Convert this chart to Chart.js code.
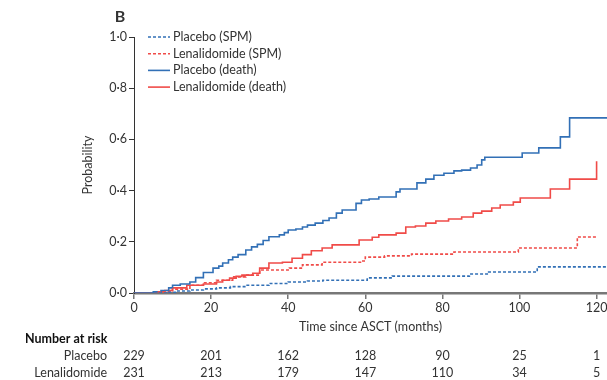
<!DOCTYPE html>
<html>
<head>
<meta charset="utf-8">
<script src="https://cdn.jsdelivr.net/npm/chart.js@4/dist/chart.umd.min.js"></script>
<style>
  html, body { margin: 0; padding: 0; background: #fff; }
  #wrap { width: 607px; height: 380px; }
</style>
</head>
<body>
<div id="wrap"><canvas id="cumChart" width="607" height="380"></canvas></div>
<script>
// Incidencia acumulada (meses desde ASCT)
const placeboDeathT = [0, 5, 7, 9, 10, 12, 14.5, 16, 18, 20.5, 22, 23, 24.5, 25.6, 27, 29, 30.5, 32, 33.5, 35, 37.7, 39, 40, 42, 43.7, 45, 47, 49, 50.6, 52.5, 54, 57.6, 59, 61, 63.5, 68, 69, 73.4, 75.7, 77.8, 80.4, 83, 85, 87.3, 89, 90.2, 91, 100.7, 105, 110.6, 113, 122.7];
const placeboDeathP = [0, 0.005, 0.01, 0.02, 0.03, 0.035, 0.043, 0.06, 0.08, 0.097, 0.105, 0.117, 0.13, 0.14, 0.15, 0.168, 0.18, 0.19, 0.205, 0.22, 0.227, 0.236, 0.246, 0.25, 0.258, 0.265, 0.273, 0.283, 0.293, 0.312, 0.324, 0.35, 0.363, 0.367, 0.375, 0.395, 0.406, 0.43, 0.445, 0.46, 0.468, 0.477, 0.48, 0.488, 0.5, 0.52, 0.53, 0.547, 0.567, 0.61, 0.684, 0.684];

const lenaDeathT = [0, 6, 8, 10, 13.7, 18, 21.4, 23, 24.8, 26.5, 28, 30.8, 32.6, 35, 38.5, 41, 43.7, 46, 48.8, 51.4, 58.4, 61.8, 63.5, 68, 70.5, 73, 75.7, 78.3, 81.6, 85, 88, 90.2, 92.8, 95, 98.4, 100.2, 108, 113, 120];
const lenaDeathP = [0, 0.005, 0.01, 0.02, 0.03, 0.035, 0.043, 0.05, 0.058, 0.065, 0.07, 0.077, 0.097, 0.117, 0.12, 0.136, 0.15, 0.165, 0.176, 0.188, 0.207, 0.218, 0.227, 0.234, 0.258, 0.262, 0.273, 0.281, 0.289, 0.297, 0.312, 0.32, 0.332, 0.344, 0.355, 0.371, 0.406, 0.445, 0.515];

const placeboSpmT = [0, 8.5, 11, 14.5, 18, 21.4, 25, 29, 35, 40, 45, 49, 60.5, 67, 87, 92, 104.6, 122.7];
const placeboSpmP = [0, 0.003, 0.008, 0.012, 0.016, 0.02, 0.025, 0.03, 0.037, 0.043, 0.047, 0.05, 0.059, 0.066, 0.074, 0.082, 0.102, 0.102];

const lenaSpmT = [0, 6, 10, 14.5, 18, 21.4, 25.6, 29, 32.6, 40.3, 43.7, 48.8, 59, 60, 65, 72, 83, 99.7, 115, 120];
const lenaSpmP = [0, 0.005, 0.015, 0.03, 0.04, 0.05, 0.063, 0.07, 0.09, 0.097, 0.11, 0.12, 0.125, 0.14, 0.145, 0.152, 0.16, 0.176, 0.219, 0.219];

// Número en riesgo
const riskMonths = [0, 20, 40, 60, 80, 100, 120];
const riskPlacebo = [229, 201, 162, 128, 90, 25, 1];
const riskLena = [231, 213, 179, 147, 110, 34, 5];

const yTicks = [0, 0.2, 0.4, 0.6, 0.8, 1.0];

const BLUE = '#3270b6';
const RED = '#f04b48';
const TXT = '#333';
const FONT = 'Lato';

function toPoints(t, p) {
    return t.map((x, i) => ({ x: x, y: p[i] }));
}

function fmtDot(v) {
    return v.toFixed(1).replace('.', '·');
}

// 'before': horizontal al valor anterior y salto vertical en el tiempo del evento
const datasets = [
    { label: 'Placebo (SPM)', data: toPoints(placeboSpmT, placeboSpmP), borderColor: BLUE, borderDash: [3, 2] },
    { label: 'Lenalidomide (SPM)', data: toPoints(lenaSpmT, lenaSpmP), borderColor: RED, borderDash: [3, 2] },
    { label: 'Placebo (death)', data: toPoints(placeboDeathT, placeboDeathP), borderColor: BLUE },
    { label: 'Lenalidomide (death)', data: toPoints(lenaDeathT, lenaDeathP), borderColor: RED }
].map(d => Object.assign({
    stepped: 'before',
    borderWidth: 1.6,
    pointRadius: 0,
    fill: false
}, d));

// Textos extra: letra del panel, títulos, leyenda y tabla de riesgo
const extrasPlugin = {
    id: 'extras',
    afterDraw(chart) {
        const c = chart.ctx;
        const xs = chart.scales.x;
        const area = chart.chartArea;
        c.save();
        c.fillStyle = TXT;

        c.font = `bold 16px ${FONT}`;
        c.textAlign = 'center';
        c.textBaseline = 'middle';
        c.fillText('B', 120, 17);

        c.font = `12.5px ${FONT}`;
        c.fillText('Time since ASCT (months)', (area.left + area.right) / 2, 327);

        c.save();
        c.translate(88, (area.top + area.bottom) / 2);
        c.rotate(-Math.PI / 2);
        c.fillText('Probability', 0, 0);
        c.restore();

        // leyenda
        c.textAlign = 'left';
        chart.data.datasets.forEach((ds, i) => {
            const y = 37 + i * 16.7;
            c.beginPath();
            c.setLineDash(ds.borderDash || []);
            c.strokeStyle = ds.borderColor;
            c.lineWidth = 1.6;
            c.moveTo(148, y);
            c.lineTo(170, y);
            c.stroke();
            c.setLineDash([]);
            c.fillStyle = TXT;
            c.fillText(ds.label, 173, y);
        });

        // tabla "Number at risk"
        c.font = `bold 12.5px ${FONT}`;
        c.fillStyle = '#111';
        c.fillText('Number at risk', 25, 339);
        c.font = `12.5px ${FONT}`;
        c.fillStyle = TXT;
        c.textAlign = 'right';
        c.fillText('Placebo', 107, 356);
        c.fillText('Lenalidomide', 107, 373);
        c.textAlign = 'center';
        riskMonths.forEach((m, i) => {
            const px = xs.getPixelForValue(m);
            c.fillText(String(riskPlacebo[i]), px, 356);
            c.fillText(String(riskLena[i]), px, 373);
        });
        c.restore();
    }
};

const ctx = document.getElementById('cumChart').getContext('2d');

new Chart(ctx, {
    type: 'line',
    data: { datasets: datasets },
    options: {
        responsive: false,
        animation: false,
        layout: { padding: { left: 0, top: 37, right: 0, bottom: 0 } },
        scales: {
            x: {
                type: 'linear',
                min: 0,
                max: 122.7,
                afterFit: s => { s.height = 87; s.paddingLeft = 0; s.paddingRight = 0; },
                ticks: {
                    stepSize: 20,
                    includeBounds: false,
                    autoSkip: false,
                    maxRotation: 0,
                    padding: 1,
                    color: TXT,
                    font: { family: FONT, size: 12.5 }
                },
                grid: { drawOnChartArea: false, drawTicks: true, tickLength: 6, color: '#777', lineWidth: 1.5 },
                border: { display: true, color: '#777', width: 2.5 }
            },
            y: {
                min: 0,
                max: 1,
                afterFit: s => { s.width = 134; },
                afterBuildTicks: s => { s.ticks = yTicks.map(v => ({ value: v })); },
                ticks: {
                    padding: 2,
                    color: TXT,
                    font: { family: FONT, size: 12.5 },
                    callback: v => fmtDot(v)
                },
                grid: { drawOnChartArea: false, drawTicks: true, tickLength: 5, color: '#333', lineWidth: 1 },
                border: { display: true, color: '#333', width: 1 }
            }
        },
        plugins: {
            legend: { display: false },
            tooltip: { enabled: false }
        }
    },
    plugins: [extrasPlugin]
});
</script>
</body>
</html>
